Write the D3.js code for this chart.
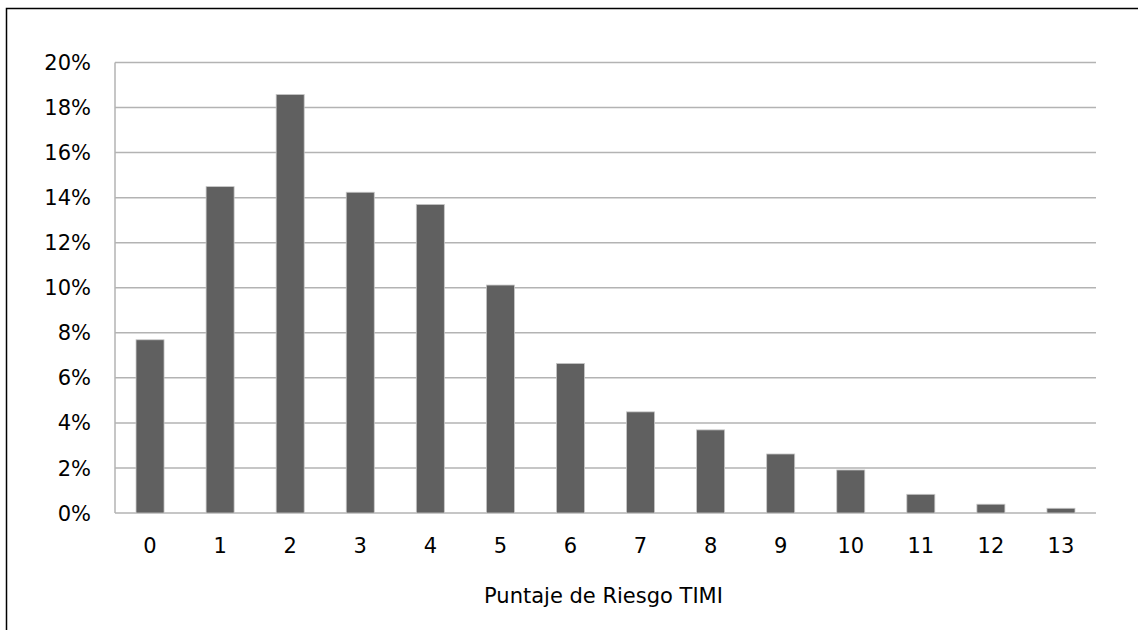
<!DOCTYPE html>
<html>
<head>
<meta charset="utf-8">
<script src="https://cdn.jsdelivr.net/npm/d3@7"></script>
<style>
  body { margin: 0; background: #fff; }
  svg text { font-family: "DejaVu Sans", Verdana, sans-serif; fill: #000; }
</style>
</head>
<body>
<svg id="chart" width="1138" height="630"></svg>
<script>
const scores = ['0', '1', '2', '3', '4', '5', '6', '7', '8', '9', '10', '11', '12', '13']
const shares = [7.69, 14.49, 18.58, 14.24, 13.70, 10.12, 6.64, 4.49, 3.69, 2.62, 1.91, 0.83, 0.39, 0.21]
const yTicks = [0, 2, 4, 6, 8, 10, 12, 14, 16, 18, 20]
const xTitle = 'Puntaje de Riesgo TIMI'

const svg = d3.select('#chart')
const width = 1138, height = 630
const margin = { top: 62.5, right: 42, bottom: 117, left: 115 }

// outer frame, cut off at right and bottom like the source
svg.append('rect')
  .attr('x', 6.5).attr('y', 8.5)
  .attr('width', width + 10).attr('height', height + 10)
  .attr('fill', 'none').attr('stroke', '#000').attr('stroke-width', 1.5)

const x = d3.scaleBand()
  .domain(scores)
  .range([margin.left, width - margin.right])
  .paddingInner(0.6)
  .paddingOuter(0.3)

const y = d3.scaleLinear()
  .domain([0, 20])
  .range([height - margin.bottom, margin.top])

const g = svg.append('g')

// gridlines
g.selectAll('.grid')
  .data(yTicks)
  .enter().append('line')
  .attr('class', 'grid')
  .attr('x1', margin.left).attr('x2', width - margin.right)
  .attr('y1', d => y(d)).attr('y2', d => y(d))
  .attr('stroke', '#b3b3b3').attr('stroke-width', 1.5)

// vertical axis line
g.append('line')
  .attr('x1', margin.left).attr('x2', margin.left)
  .attr('y1', y(20)).attr('y2', y(0))
  .attr('stroke', '#b3b3b3').attr('stroke-width', 1.5)

// bars
g.selectAll('.bar')
  .data(shares)
  .enter().append('rect')
  .attr('class', 'bar')
  .attr('x', (d, i) => x(scores[i]))
  .attr('width', x.bandwidth())
  .attr('y', d => y(d))
  .attr('height', d => y(0) - y(d))
  .attr('fill', '#606060')
  .attr('stroke', '#c8c8c8').attr('stroke-width', 0.8)

// y tick labels
g.selectAll('.ylab')
  .data(yTicks)
  .enter().append('text')
  .attr('class', 'ylab')
  .attr('x', 91)
  .attr('y', d => y(d))
  .attr('dy', '0.36em')
  .attr('text-anchor', 'end')
  .style('font-size', '21px')
  .text(d => d + '%')

// x tick labels
g.selectAll('.xlab')
  .data(scores)
  .enter().append('text')
  .attr('class', 'xlab')
  .attr('x', d => x(d) + x.bandwidth() / 2)
  .attr('y', 553)
  .attr('text-anchor', 'middle')
  .style('font-size', '21px')
  .text(d => d)

// axis title
svg.append('text')
  .attr('x', 603.5)
  .attr('y', 603)
  .attr('text-anchor', 'middle')
  .style('font-size', '21px')
  .text(xTitle)
</script>
</body>
</html>
